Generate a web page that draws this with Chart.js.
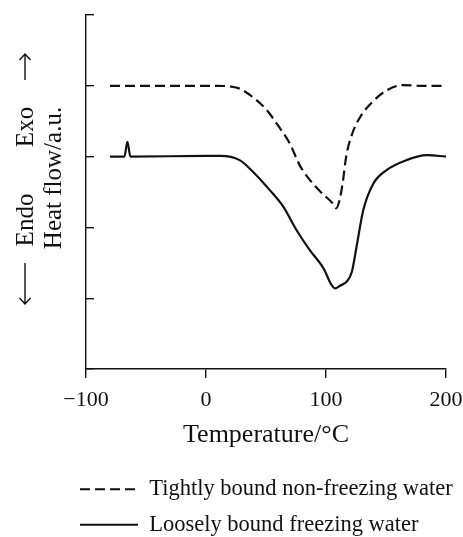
<!DOCTYPE html>
<html>
<head>
<meta charset="utf-8">
<script src="https://cdn.jsdelivr.net/npm/chart.js@4"></script>
<style>
  html, body { margin: 0; padding: 0; background: #fff; }
  canvas { display: block; }
</style>
</head>
<body>
<canvas id="dscChart" width="463" height="537"></canvas>
<script>
// DSC curves (temperature in °C, heat flow in arbitrary units)
const tightTemp = [-80, 10, 20, 28, 39, 50.5, 60, 70, 78, 88, 98, 104.5, 108.5, 111.5, 114, 116.8, 122, 128.5, 138.5, 151, 164, 178, 200];
const tightFlow = [4.0, 4.0, 3.99, 3.96, 3.84, 3.66, 3.44, 3.18, 2.88, 2.64, 2.46, 2.36, 2.27, 2.4, 2.64, 3.0, 3.33, 3.56, 3.77, 3.94, 4.01, 4.0, 4.0];

const looseTemp = [-80, -68, -65.5, -63, 0, 12, 28, 39.5, 53, 64.5, 75.5, 86.5, 98, 104.5, 107.5, 112, 117, 121.5, 125.5, 131, 139.5, 150.5, 167, 184, 200];
const looseFlow = [3.0, 3.0, 3.21, 3.0, 3.01, 3.01, 2.95, 2.78, 2.53, 2.29, 1.96, 1.68, 1.42, 1.19, 1.14, 1.18, 1.23, 1.37, 1.73, 2.24, 2.62, 2.81, 2.95, 3.02, 3.0];

const seriesNames = ["Tightly bound non-freezing water", "Loosely bound freezing water"];
const xTicks = [-100, 0, 100, 200];

const serif = "'Liberation Serif', 'DejaVu Serif', serif";
const ink = "#111";

function toPoints(xs, ys) {
  return xs.map((x, i) => ({ x: x, y: ys[i] }));
}

// "← Endo   Exo →" and the y title, drawn beside the axis
const sideLabels = {
  id: "sideLabels",
  afterDraw(chart) {
    const ctx = chart.ctx;
    ctx.save();
    ctx.fillStyle = ink;
    ctx.strokeStyle = ink;
    ctx.font = "25px " + serif;
    ctx.textAlign = "center";
    ctx.textBaseline = "alphabetic";

    const vText = (text, x, y) => {
      ctx.save();
      ctx.translate(x, y);
      ctx.rotate(-Math.PI / 2);
      ctx.fillText(text, 0, 0);
      ctx.restore();
    };
    vText("Heat flow/a.u.", 61, 178);
    vText("Exo", 33, 127);
    vText("Endo", 33, 220);

    // arrows
    ctx.lineWidth = 1.4;
    ctx.beginPath();
    ctx.moveTo(25, 80); ctx.lineTo(25, 54);
    ctx.moveTo(19.5, 60); ctx.lineTo(25, 54); ctx.lineTo(30.5, 60);
    ctx.moveTo(25, 263); ctx.lineTo(25, 304);
    ctx.moveTo(19.5, 298); ctx.lineTo(25, 304); ctx.lineTo(30.5, 298);
    ctx.stroke();
    ctx.restore();
  }
};

const chart = new Chart(document.getElementById("dscChart").getContext("2d"), {
  type: "line",
  data: {
    datasets: [
      {
        label: seriesNames[0],
        data: toPoints(tightTemp, tightFlow),
        borderColor: ink,
        backgroundColor: ink,
        borderWidth: 2.2,
        borderDash: [10, 5],
        pointRadius: 0,
        cubicInterpolationMode: "monotone",
      },
      {
        label: seriesNames[1],
        data: toPoints(looseTemp, looseFlow),
        borderColor: ink,
        backgroundColor: ink,
        borderWidth: 2.2,
        pointRadius: 0,
        cubicInterpolationMode: "monotone",
      },
    ],
  },
  options: {
    responsive: false,
    animation: false,
    layout: { padding: { left: 67, right: 0, top: 15, bottom: 0 } },
    plugins: {
      tooltip: { enabled: false },
      legend: {
        position: "bottom",
        align: "start",
        maxHeight: 72,
        labels: {
          usePointStyle: true,
          pointStyle: "line",
          pointStyleWidth: 58,
          padding: 13,
          color: ink,
          font: { family: serif, size: 22.5 },
          // point-style legend items lose the dataset dash, so put it back
          generateLabels: (chart) => {
            const items = Chart.defaults.plugins.legend.labels.generateLabels(chart);
            items.forEach((item) => {
              const ds = chart.data.datasets[item.datasetIndex];
              item.lineDash = ds.borderDash || [];
              item.lineWidth = ds.borderWidth;
              item.strokeStyle = ds.borderColor;
            });
            return items;
          },
        },
      },
    },
    scales: {
      x: {
        type: "linear",
        min: -100,
        max: 200,
        afterBuildTicks: (scale) => {
          scale.ticks = xTicks.map((v) => ({ value: v }));
        },
        afterFit: (scale) => {
          scale.height = 96;
          // room on the right for the "200" label, plot ends at 446px
          scale.paddingLeft = 0;
          scale.paddingRight = 17;
        },
        border: { display: true, color: ink, width: 1.4 },
        grid: { drawOnChartArea: false, drawTicks: true, tickLength: 9, color: ink, lineWidth: 1.4 },
        ticks: {
          color: ink,
          padding: 9,
          maxRotation: 0,
          font: { family: serif, size: 22 },
          callback: (v) => String(v).replace("-", "\u2212"),
        },
        title: {
          display: true,
          text: "Temperature/°C",
          color: ink,
          font: { family: serif, size: 26 },
          padding: { top: 0, bottom: 14 },
        },
      },
      y: {
        min: 0,
        max: 5,
        afterFit: (scale) => {
          scale.width = 19;
        },
        border: { display: true, color: ink, width: 1.4 },
        grid: { drawOnChartArea: false, drawTicks: true, tickLength: -8, color: ink, lineWidth: 1.4 },
        ticks: { display: false, stepSize: 1 },
      },
    },
  },
  plugins: [sideLabels],
});
</script>
</body>
</html>
